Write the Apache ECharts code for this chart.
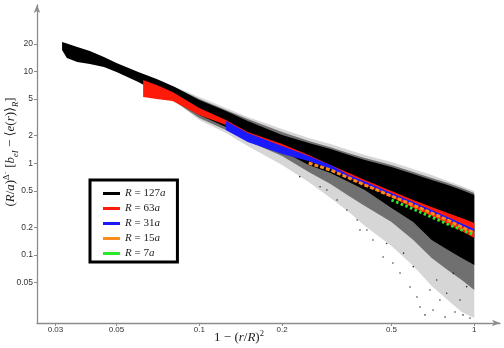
<!DOCTYPE html>
<html>
<head>
<meta charset="utf-8">
<script src="https://cdn.jsdelivr.net/npm/echarts@6/dist/echarts.min.js"></script>
<style>
  html, body { margin: 0; padding: 0; background: #fff; }
  #chart { width: 504px; height: 348px; }
</style>
</head>
<body>
<div id="chart"></div>
<script>
// tick labels
var X_TICKS = [0.03, 0.05, 0.1, 0.2, 0.5, 1];
var Y_TICKS = [0.05, 0.1, 0.2, 0.5, 1, 2, 5, 10, 20];

var LEGEND_NAMES = ['R = 127a', 'R = 63a', 'R = 31a', 'R = 15a', 'R = 7a'];
var LEGEND_COLORS = ['#000000', '#ff1a0a', '#1a1aff', '#ff8c1a', '#2ee62e'];

// R = 127a: dense core of the point cloud (upper / lower edge)
var X127 = [0.0317, 0.033, 0.036, 0.04, 0.045, 0.05, 0.06, 0.07, 0.08, 0.1, 0.125, 0.15, 0.2, 0.25, 0.3, 0.35, 0.4, 0.5, 0.6, 0.7, 0.8, 0.9, 1.0];
var HI127 = [20.96, 20.18, 18.49, 16.73, 14.39, 12.38, 9.87, 8.28, 6.95, 4.89, 3.71, 2.89, 2.03, 1.66, 1.43, 1.23, 1.086, 0.911, 0.765, 0.658, 0.580, 0.512, 0.452];
var LO127 = [17.15, 14.0, 12.7, 12.1, 11.2, 9.87, 7.68, 5.98, 4.89, 3.36, 2.49, 1.93, 1.36, 0.958, 0.784, 0.626, 0.512, 0.326, 0.229, 0.146, 0.114, 0.093, 0.078];

// R = 127a: medium-density and sparse spread of the cloud
var X127_OUT = [0.08, 0.1, 0.125, 0.15, 0.2, 0.25, 0.3, 0.35, 0.4, 0.5, 0.6, 0.7, 0.8, 0.9, 1.0];
var HI127_MID = [6.95, 5.02, 3.81, 3.04, 2.19, 1.75, 1.50, 1.29, 1.14, 0.958, 0.804, 0.692, 0.610, 0.538, 0.475];
var LO127_MID = [4.89, 3.12, 2.31, 1.75, 1.20, 0.804, 0.595, 0.440, 0.343, 0.229, 0.146, 0.093, 0.0688, 0.0536, 0.0417];
var HI127_HALO = [6.95, 5.28, 4.00, 3.19, 2.36, 1.89, 1.62, 1.40, 1.23, 1.03, 0.867, 0.746, 0.641, 0.566, 0.499];
var LO127_HALO = [4.89, 2.96, 2.14, 1.54, 0.958, 0.626, 0.419, 0.295, 0.207, 0.126, 0.0761, 0.0461, 0.0324, 0.0240, 0.0206];

// R = 127a: isolated points far from the cloud
var X127_DOTS = [0.662, 0.708, 0.783, 0.851, 0.910, 0.965, 0.619, 0.584, 0.537, 0.506, 0.466, 0.428, 0.407, 0.375, 0.344, 0.317, 0.291, 0.690, 0.750, 0.635, 0.794, 0.887, 0.938, 0.839, 0.730, 0.600, 0.553, 0.480, 0.384, 0.275, 0.232];
var Y127_DOTS = [0.0223, 0.0252, 0.0212, 0.0240, 0.0223, 0.0206, 0.0350, 0.0449, 0.0638, 0.0820, 0.0954, 0.146, 0.188, 0.241, 0.310, 0.398, 0.512, 0.0417, 0.0324, 0.0272, 0.0384, 0.0324, 0.0453, 0.0633, 0.0536, 0.0748, 0.105, 0.134, 0.188, 0.556, 0.715];

// R = 63a band
var X63 = [0.0625, 0.07, 0.08, 0.1, 0.125, 0.15, 0.2, 0.25, 0.3, 0.35, 0.4, 0.5, 0.6, 0.7, 0.8, 0.9, 1.0];
var HI63 = [8.08, 7.13, 5.98, 4.00, 2.96, 2.19, 1.62, 1.23, 0.958, 0.784, 0.658, 0.499, 0.398, 0.334, 0.287, 0.254, 0.224];
var LO63 = [5.28, 5.02, 4.77, 3.36, 2.61, 1.93, 1.43, 1.114, 0.867, 0.692, 0.580, 0.430, 0.326, 0.267, 0.218, 0.183, 0.154];

// R = 31a band
var X31 = [0.125, 0.15, 0.2, 0.25, 0.3, 0.35, 0.4, 0.5, 0.6, 0.7, 0.8, 0.9, 1.0];
var HI31 = [2.89, 2.14, 1.54, 1.20, 0.958, 0.746, 0.633, 0.475, 0.379, 0.310, 0.260, 0.221, 0.192];
var LO31 = [2.31, 1.71, 1.26, 1.06, 0.867, 0.700, 0.595, 0.446, 0.356, 0.291, 0.244, 0.207, 0.181];

// R = 15a
var X15 = [0.25, 0.3, 0.35, 0.4, 0.5, 0.6, 0.7, 0.8, 0.9, 1.0];
var Y15 = [1.008, 0.845, 0.692, 0.580, 0.440, 0.351, 0.287, 0.241, 0.202, 0.174];

// R = 7a
var X7 = [0.5, 0.6, 0.7, 0.8, 0.9, 1.0];
var Y7 = [0.398, 0.318, 0.260, 0.218, 0.188, 0.166];

var SERIF = '"Liberation Serif", "DejaVu Serif", serif';
var SANS = '"Liberation Sans", Arial, sans-serif';
var AXIS_GREY = '#8c8c8c';

function pairs(xs, ys) {
  return xs.map(function (x, i) { return [x, ys[i]]; });
}

// filled polygon between an upper and a lower edge
function band(name, xs, hi, lo, color) {
  return {
    type: 'custom', name: name, silent: true,
    itemStyle: { color: color },
    data: [[xs[0], hi[0]]],
    renderItem: function (params, api) {
      var pts = [], i;
      for (i = 0; i < xs.length; i++) pts.push(api.coord([xs[i], hi[i]]));
      for (i = xs.length - 1; i >= 0; i--) pts.push(api.coord([xs[i], lo[i]]));
      return { type: 'polygon', shape: { points: pts }, style: { fill: color } };
    }
  };
}

function tickFmt(v) { return String(+Number(v).toPrecision(6)); }

var mathRich = {
  n: { fontFamily: SERIF, fontSize: 13, color: '#222', lineHeight: 18 },
  i: { fontFamily: SERIF, fontSize: 13, fontStyle: 'italic', color: '#222', lineHeight: 18 },
  sup: { fontFamily: SERIF, fontSize: 8.5, color: '#222', verticalAlign: 'top', lineHeight: 10 },
  supsub: { fontFamily: SERIF, fontSize: 6, color: '#222', verticalAlign: 'top', lineHeight: 14 },
  sub: { fontFamily: SERIF, fontSize: 8.5, fontStyle: 'italic', color: '#222', verticalAlign: 'bottom', lineHeight: 10 }
};

var chart = echarts.init(document.getElementById('chart'));
chart.setOption({
  animation: false,
  grid: { left: 37, right: 4, top: 5, bottom: 25, outerBoundsMode: 'none', containLabel: false },
  xAxis: {
    type: 'log', logBase: 10, min: 0.0257, max: 1.2403,
    axisLine: { show: true, onZero: false, symbol: ['none', 'arrow'], symbolSize: [5, 8],
                lineStyle: { color: AXIS_GREY, width: 1.3 } },
    axisTick: { show: true, length: 3, customValues: X_TICKS, lineStyle: { color: AXIS_GREY } },
    axisLabel: { customValues: X_TICKS, margin: 3, fontSize: 8, color: '#333', fontFamily: SANS, formatter: tickFmt },
    splitLine: { show: false }, minorTick: { show: false },
    name: '{n|1 − (}{i|r}{n|/}{i|R}{n|)}{sup|2}',
    nameLocation: 'middle', nameGap: 6, nameMoveOverlap: false,
    nameTextStyle: { rich: mathRich, padding: [0, 59, 0, 0] }
  },
  yAxis: {
    type: 'log', logBase: 10, min: 0.01821, max: 53.02,
    axisLine: { show: true, onZero: false, symbol: ['none', 'arrow'], symbolSize: [5, 8],
                lineStyle: { color: AXIS_GREY, width: 1.3 } },
    axisTick: { show: true, length: 3, customValues: Y_TICKS, lineStyle: { color: AXIS_GREY } },
    axisLabel: { customValues: Y_TICKS, margin: 4, fontSize: 8.5, color: '#333', fontFamily: SANS, formatter: tickFmt },
    splitLine: { show: false }, minorTick: { show: false },
    name: '{n|(}{i|R}{n|/}{i|a}{n|)}{sup|Δ}{supsub|−}{n| [}{i|b}{sub|eI}{n| − ⟨}{i|e}{n|(}{i|r}{n|)⟩}{sub|R}{n|]}',
    nameLocation: 'middle', nameGap: 17, nameRotate: 90, nameMoveOverlap: false,
    nameTextStyle: { rich: mathRich, padding: [0, 0, 0, 24] }
  },
  legend: {
    data: LEGEND_NAMES.map(function (n, i) { return { name: n, itemStyle: { color: LEGEND_COLORS[i] } }; }),
    orient: 'vertical', left: 90, top: 180,
    icon: 'rect', itemWidth: 17, itemHeight: 3, itemGap: 4, itemTextGap: 7,
    padding: [8, 12, 3, 13],
    borderColor: '#000', borderWidth: 3, backgroundColor: '#fff',
    selectedMode: false,
    formatter: function (name) {
      return '{i|R}{n| = ' + name.split(' = ')[1].replace('a', '') + '}{i|a}';
    },
    textStyle: {
      rich: {
        n: { fontFamily: SERIF, fontSize: 11, color: '#222', lineHeight: 15 },
        i: { fontFamily: SERIF, fontSize: 11, fontStyle: 'italic', color: '#222', lineHeight: 15 }
      }
    }
  },
  series: [
    band('127a spread', X127_OUT, HI127_HALO, LO127_HALO, 'rgba(0,0,0,0.16)'),
    band('127a mid', X127_OUT, HI127_MID, LO127_MID, 'rgba(0,0,0,0.48)'),
    {
      type: 'scatter', name: '127a dots', silent: true, symbolSize: 1.6,
      itemStyle: { color: '#000' }, data: pairs(X127_DOTS, Y127_DOTS)
    },
    band('R = 127a', X127, HI127, LO127, LEGEND_COLORS[0]),
    band('R = 63a', X63, HI63, LO63, LEGEND_COLORS[1]),
    band('R = 31a', X31, HI31, LO31, LEGEND_COLORS[2]),
    {
      type: 'line', name: 'R = 15a', silent: true, symbol: 'none',
      itemStyle: { color: LEGEND_COLORS[3] },
      lineStyle: { color: LEGEND_COLORS[3], width: 3, type: [4, 2], cap: 'butt' },
      data: pairs(X15, Y15)
    },
    {
      type: 'line', name: 'R = 7a', silent: true, symbol: 'none',
      itemStyle: { color: LEGEND_COLORS[4] },
      lineStyle: { color: LEGEND_COLORS[4], width: 3, type: [2.5, 2.5], cap: 'butt' },
      data: pairs(X7, Y7)
    }
  ]
});
</script>
</body>
</html>
